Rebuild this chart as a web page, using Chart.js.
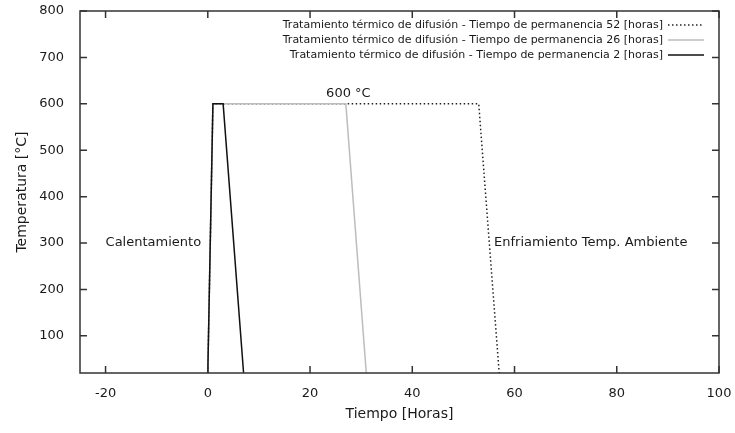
<!DOCTYPE html>
<html>
<head>
<meta charset="utf-8">
<script src="https://cdn.jsdelivr.net/npm/chart.js@4.4.0/dist/chart.umd.min.js"></script>
<style>
  html, body { margin: 0; padding: 0; background: #fff; }
</style>
</head>
<body>
<canvas id="grafica" width="735" height="433"></canvas>
<script>
// Ciclos de tratamiento: tiempo [h] y temperatura [°C]
const tiempo52 = [0, 1, 53, 57];
const tiempo26 = [0, 1, 27, 31];
const tiempo2 = [0, 1, 3, 7];
const temperatura = [20, 600, 600, 20];

const nombres = [
  "Tratamiento térmico de difusión - Tiempo de permanencia 52 [horas]",
  "Tratamiento térmico de difusión - Tiempo de permanencia 26 [horas]",
  "Tratamiento térmico de difusión - Tiempo de permanencia 2 [horas]"
];

const ticksX = [-20, 0, 20, 40, 60, 80, 100];
const ticksY = [100, 200, 300, 400, 500, 600, 700, 800];

// etiquetas dentro del grafico (coordenadas de datos)
const notas = [
  { texto: "600 °C", x: 27.5, y: 623, alinear: "center" },
  { texto: "Calentamiento", x: -20, y: 300, alinear: "left" },
  { texto: "Enfriamiento Temp. Ambiente", x: 56, y: 300, alinear: "left" }
];

const fuente = "DejaVu Sans";
const tinta = "#1a1a1a";

function puntos(xs, ys) {
  return xs.map((x, i) => ({ x: x, y: ys[i] }));
}

// marco, marcas hacia dentro, textos y leyenda al estilo gnuplot
const estiloGnuplot = {
  id: "estiloGnuplot",
  afterDatasetsDraw(chart) {
    const ctx = chart.ctx;
    const area = chart.chartArea;
    const sx = chart.scales.x;
    const sy = chart.scales.y;
    const largo = 7;

    ctx.save();
    ctx.strokeStyle = "#333";
    ctx.lineWidth = 1.5;
    ctx.beginPath();
    sx.ticks.forEach(t => {
      const px = sx.getPixelForValue(t.value);
      ctx.moveTo(px, area.bottom);
      ctx.lineTo(px, area.bottom - largo);
      ctx.moveTo(px, area.top);
      ctx.lineTo(px, area.top + largo);
    });
    sy.ticks.forEach(t => {
      const py = sy.getPixelForValue(t.value);
      ctx.moveTo(area.left, py);
      ctx.lineTo(area.left + largo, py);
      ctx.moveTo(area.right, py);
      ctx.lineTo(area.right - largo, py);
    });
    ctx.stroke();
    ctx.strokeRect(area.left, area.top, area.right - area.left, area.bottom - area.top);

    // textos
    ctx.fillStyle = tinta;
    ctx.font = "13px '" + fuente + "'";
    ctx.textBaseline = "middle";
    notas.forEach(n => {
      ctx.textAlign = n.alinear;
      ctx.fillText(n.texto, sx.getPixelForValue(n.x), sy.getPixelForValue(n.y));
    });

    // leyenda
    ctx.font = "11px '" + fuente + "'";
    ctx.textAlign = "right";
    chart.data.datasets.forEach((ds, i) => {
      const y = area.top + 14 + i * 15;
      ctx.fillStyle = tinta;
      ctx.fillText(nombres[i], area.right - 56, y);
      ctx.beginPath();
      ctx.strokeStyle = ds.borderColor;
      ctx.lineWidth = ds.borderWidth;
      ctx.setLineDash(ds.borderDash || []);
      ctx.moveTo(area.right - 51, y);
      ctx.lineTo(area.right - 15, y);
      ctx.stroke();
    });
    ctx.restore();
  }
};

new Chart(document.getElementById("grafica"), {
  type: "scatter",
  data: {
    datasets: [
      {
        label: nombres[0],
        data: puntos(tiempo52, temperatura),
        showLine: true,
        borderColor: "#222",
        borderWidth: 1.5,
        borderDash: [1.5, 2.5],
        pointRadius: 0,
        order: 3
      },
      {
        label: nombres[1],
        data: puntos(tiempo26, temperatura),
        showLine: true,
        borderColor: "#bdbdbd",
        borderWidth: 1.5,
        pointRadius: 0,
        order: 2
      },
      {
        label: nombres[2],
        data: puntos(tiempo2, temperatura),
        showLine: true,
        borderColor: "#111",
        borderWidth: 1.5,
        pointRadius: 0,
        order: 1
      }
    ]
  },
  options: {
    responsive: false,
    animation: false,
    devicePixelRatio: 1,
    layout: { padding: { left: 0, right: 16, top: 11, bottom: 0 } },
    plugins: {
      legend: { display: false },
      tooltip: { enabled: false }
    },
    scales: {
      x: {
        type: "linear",
        min: -25,
        max: 100,
        grid: { display: false },
        border: { display: false },
        afterBuildTicks: s => { s.ticks = ticksX.map(v => ({ value: v })); },
        afterFit: s => { s.height = 60; s.paddingLeft = 0; s.paddingRight = 0; },
        ticks: { color: tinta, padding: 5, font: { family: fuente, size: 13 } },
        title: {
          display: true,
          text: "Tiempo [Horas]",
          color: tinta,
          font: { family: fuente, size: 14 },
          padding: { top: 4, bottom: 10 }
        }
      },
      y: {
        min: 20,
        max: 800,
        grid: { display: false },
        border: { display: false },
        afterBuildTicks: s => { s.ticks = ticksY.map(v => ({ value: v })); },
        afterFit: s => { s.width = 80; s.paddingTop = 0; s.paddingBottom = 0; },
        ticks: { color: tinta, padding: 8, font: { family: fuente, size: 13 } },
        title: {
          display: true,
          text: "Temperatura [°C]",
          color: tinta,
          font: { family: fuente, size: 14 },
          padding: { top: 14, bottom: 0 }
        }
      }
    }
  },
  plugins: [estiloGnuplot]
});
</script>
</body>
</html>
